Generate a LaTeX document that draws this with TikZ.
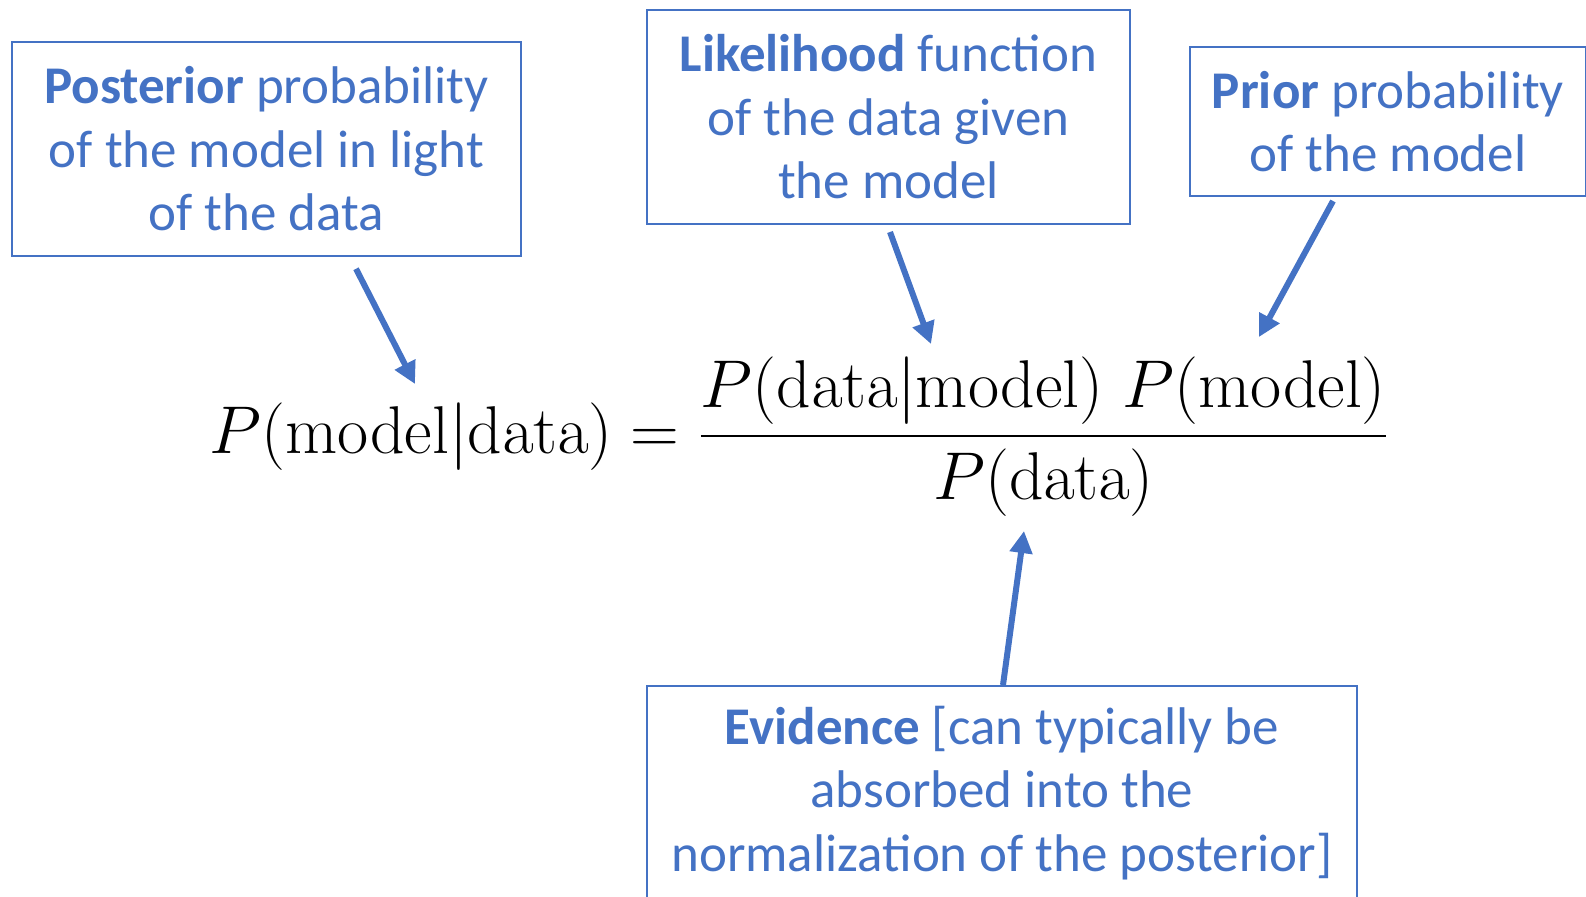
\RequirePackage{fix-cm}
\documentclass[tikz,border=0pt]{standalone}
\usepackage[no-math]{fontspec}
\setmainfont{Carlito}
\usepackage{amsmath}
\usetikzlibrary{arrows.meta,calc}
\definecolor{offblue}{HTML}{4472C4}

\begin{document}
\begin{tikzpicture}[x=0.5pt,y=-0.5pt,
  box/.style={draw=offblue,line width=1pt,text=offblue,align=center,inner sep=0pt,
    font=\fontsize{26.5}{31.75}\selectfont},
  pointer/.style={offblue,line width=3pt,-{Triangle[length=11pt,width=11pt]}}]
\useasboundingbox (0,0) rectangle (1586,896);
\node[box,minimum width=254.5pt,minimum height=106.75pt] (post) at (266.5,149)
  {\textbf{Posterior} probability\\of the model in light\\of the data};
\node[box,minimum width=241.5pt,minimum height=107pt] (like) at (888.5,117)
  {\textbf{Likelihood} function\\of the data given\\the model};
\node[box,minimum width=198pt,minimum height=74.5pt] (prior) at (1388,121.5)
  {\textbf{Prior} probability\\of the model};
\node[box,minimum width=355pt,minimum height=107pt] (evid) at (1002,793)
  {\textbf{Evidence} [can typically be\\absorbed into the\\normalization of the posterior]};
\node[anchor=base,font=\fontsize{33.8}{40}\selectfont] (bayes) at (799,453)
  {$\displaystyle P(\mathrm{model}|\mathrm{data})
   = \frac{P(\mathrm{data}|\mathrm{model})\;P(\mathrm{model})}{P(\mathrm{data})}$};
\coordinate (postTip) at (415,384);
\coordinate (likeTip) at (931,344);
\coordinate (priorTip) at (1259,337);
\coordinate (evidTip) at (1024,531);
\draw[pointer] ($(post.south)+(89.5,12)$) -- (postTip);
\draw[pointer] ($(like.south)+(1.5,7)$) -- (likeTip);
\draw[pointer] ($(prior.south)+(-55,4)$) -- (priorTip);
\draw[pointer] ($(evid.north)+(1,0)$) -- (evidTip);
\end{tikzpicture}
\end{document}
